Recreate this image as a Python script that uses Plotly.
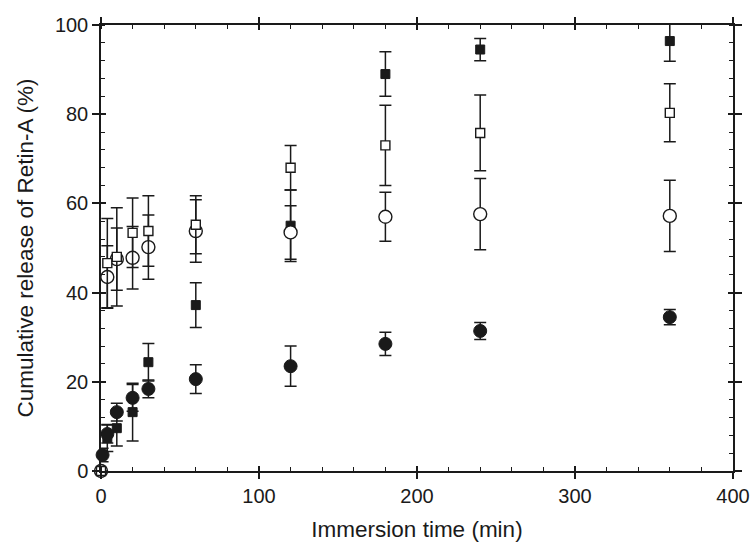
import plotly.graph_objects as go

# Filled squares
t_fs = [4, 10, 20, 30, 60, 120, 180, 240, 360]
y_fs = [7.4, 9.6, 13.2, 24.4, 37.2, 55.0, 89.0, 94.5, 96.4]
e_fs = [3.0, 4.0, 6.5, 4.2, 5.0, 8.0, 5.0, 2.5, 4.5]

# Filled circles
t_fc = [1, 4, 10, 20, 30, 60, 120, 180, 240, 360]
y_fc = [3.6, 8.3, 13.2, 16.4, 18.4, 20.6, 23.5, 28.5, 31.4, 34.5]
e_fc = [1.5, 2.0, 2.0, 3.0, 2.0, 3.2, 4.5, 2.6, 1.9, 1.7]

# Open circles
t_oc = [0, 4, 10, 20, 30, 60, 120, 180, 240, 360]
y_oc = [0.0, 43.5, 47.5, 47.8, 50.2, 53.8, 53.5, 57.0, 57.6, 57.2]
e_oc = [0.0, 7.0, 7.0, 7.0, 7.2, 7.0, 6.0, 5.5, 8.0, 8.0]

# Open squares
t_os = [0, 4, 10, 20, 30, 60, 120, 180, 240, 360]
y_os = [0.0, 46.6, 48.0, 53.4, 53.8, 55.2, 68.0, 73.0, 75.8, 80.3]
e_os = [0.0, 10.0, 11.0, 7.8, 7.9, 6.5, 5.0, 9.0, 8.5, 6.5]

x_ticks = [0, 100, 200, 300, 400]
y_ticks = [0, 20, 40, 60, 80, 100]

INK = "#1a1a1a"

def err(e):
    return dict(type="data", array=e, visible=True, color=INK, thickness=1.5, width=6)

fig = go.Figure()
fig.add_trace(go.Scatter(x=t_fs, y=y_fs, mode="markers", error_y=err(e_fs), cliponaxis=False,
                         marker=dict(symbol="square", size=9, color=INK, line=dict(color=INK, width=1))))
fig.add_trace(go.Scatter(x=t_fc, y=y_fc, mode="markers", error_y=err(e_fc), cliponaxis=False,
                         marker=dict(symbol="circle", size=13, color=INK, line=dict(color=INK, width=1))))
fig.add_trace(go.Scatter(x=t_oc, y=y_oc, mode="markers", error_y=err(e_oc), cliponaxis=False,
                         marker=dict(symbol="circle", size=13, color="white", line=dict(color=INK, width=1.4))))
fig.add_trace(go.Scatter(x=t_os, y=y_os, mode="markers", error_y=err(e_os), cliponaxis=False,
                         marker=dict(symbol="square", size=9, color="white", line=dict(color=INK, width=1.4))))
# dummy trace to activate overlay axes (for inward major ticks)
fig.add_trace(go.Scatter(x=[None], y=[None], xaxis="x2", yaxis="y2", showlegend=False, hoverinfo="skip"))

font = dict(family="Liberation Sans, Arial, sans-serif", size=20, color=INK)

fig.update_layout(
    width=753, height=551,
    margin=dict(l=101, r=20, t=25, b=80),
    paper_bgcolor="white", plot_bgcolor="white",
    showlegend=False,
    font=font,
    xaxis=dict(range=[0, 400], tickvals=x_ticks, ticks="outside", ticklen=6, tickwidth=1.5,
               tickcolor=INK, showline=True, linecolor=INK, linewidth=1.5, mirror="allticks",
               showgrid=False, zeroline=False, automargin=False,
               minor=dict(ticks="inside", dtick=20, ticklen=4, tickcolor=INK, tickwidth=1.2, showgrid=False),
               title=dict(text="Immersion time (min)", font=dict(size=22.5)),
               tickfont=dict(size=20)),
    yaxis=dict(range=[0, 100], tickvals=y_ticks, ticks="outside", ticklen=7, tickwidth=1.5,
               tickcolor=INK, showline=True, linecolor=INK, linewidth=1.5, mirror="allticks",
               showgrid=False, zeroline=False, automargin=False,
               minor=dict(ticks="inside", dtick=4, ticklen=4, tickcolor=INK, tickwidth=1.2, showgrid=False),
               title=dict(text="Cumulative release of Retin-A (%)", font=dict(size=22.5)),
               tickfont=dict(size=20)),
    xaxis2=dict(range=[0, 400], overlaying="x", side="bottom", tickvals=x_ticks, ticks="inside",
                ticklen=5, tickwidth=1.5, tickcolor=INK, showticklabels=False, showline=False,
                mirror="allticks", showgrid=False, zeroline=False, automargin=False),
    yaxis2=dict(range=[0, 100], overlaying="y", side="left", tickvals=y_ticks, ticks="inside",
                ticklen=5, tickwidth=1.5, tickcolor=INK, showticklabels=False, showline=False,
                mirror="allticks", showgrid=False, zeroline=False, automargin=False),
)

fig.write_html("out.html")
